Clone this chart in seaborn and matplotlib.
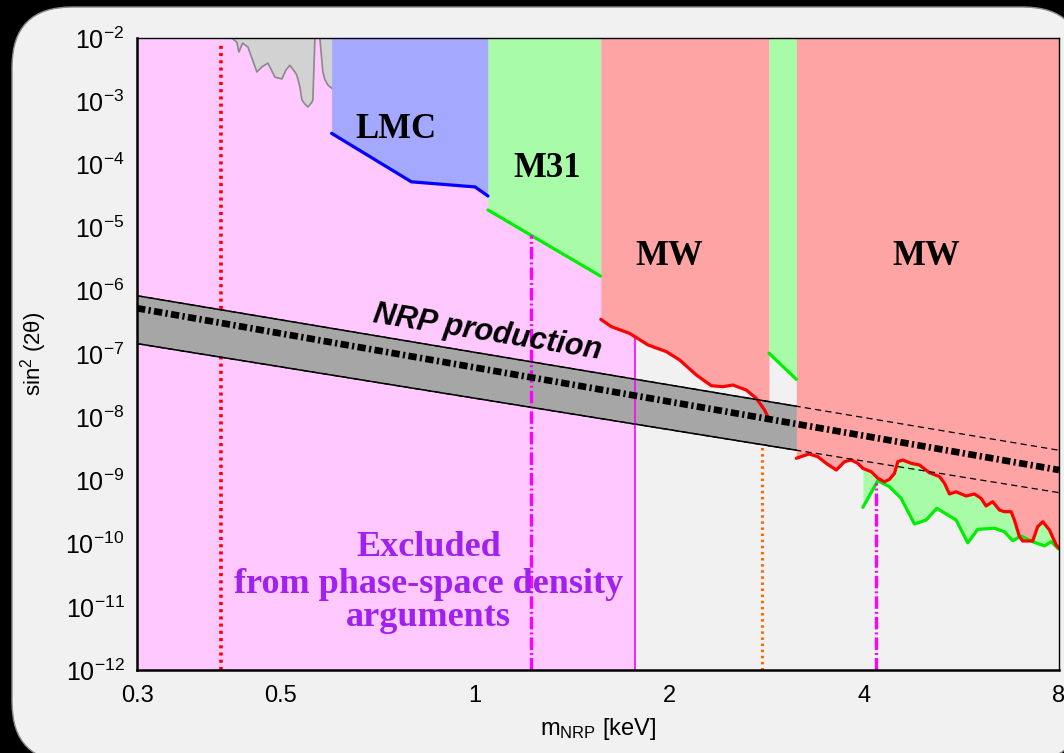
import numpy as np
import pandas as pd
import matplotlib
matplotlib.use("Agg")
import matplotlib.pyplot as plt
import seaborn as sns
from matplotlib.patches import FancyBboxPatch
from matplotlib.ticker import FixedLocator, NullFormatter

# ---------------- data ----------------
x_lim = (0.3, 8.0)
y_lim = (1e-12, 1e-2)

x_major = [0.3, 0.5, 1, 2, 4, 8]
x_major_labels = ["0.3", "0.5", "1", "2", "4", "8"]
x_minor = [3, 5, 6, 7]
y_exponents = list(range(-12, -1))

# grey X-ray bound at the top
gray_m = [0.4206, 0.428, 0.4312, 0.437, 0.4453, 0.4598, 0.4681, 0.4782, 0.4903,
          0.5026, 0.5098, 0.5171, 0.5264, 0.530, 0.5358, 0.5397, 0.5455, 0.5514,
          0.5594, 0.5612, 0.5653, 0.5754, 0.5815, 0.5857, 0.592, 0.6005, 0.618]
gray_s = [1e-2, 8.6e-3, 6.0e-3, 8.3e-3, 7.2e-3, 2.9e-3, 3.5e-3, 4.0e-3, 2.4e-3,
          2.25e-3, 3.1e-3, 3.7e-3, 2.9e-3, 2.6e-3, 1.7e-3, 1.05e-3, 9.0e-4, 8.1e-4,
          9.7e-4, 1.05e-3, 1e-2, 1e-2, 2.9e-3, 2.2e-3, 1.8e-3, 1.6e-3, 1.3e-3]

# LMC bound
lmc_m = [0.600, 0.797, 1.000, 1.047]
lmc_s = [3.1e-4, 5.3e-5, 4.4e-5, 3.16e-5]

# M31 bound (first piece)
m31_m = [1.047, 1.563]
m31_s = [1.9e-5, 1.71e-6]

# MW bound (first piece)
mw1_m = [1.565, 1.625, 1.734, 1.851, 1.976, 2.072, 2.199, 2.319, 2.417, 2.504,
         2.627, 2.722, 2.804, 2.848]
mw1_s = [3.54e-7, 2.70e-7, 2.12e-7, 1.39e-7, 1.09e-7, 8.04e-8, 4.65e-8, 3.15e-8,
         3.04e-8, 3.23e-8, 2.69e-8, 1.99e-8, 1.30e-8, 9.3e-9]

# M31 bound (second piece)
m31b_m = [2.848, 3.139]
m31b_s = [1.03e-7, 3.98e-8]

# MW bound (second piece)
mw2_m = [3.139, 3.285, 3.389, 3.493, 3.619, 3.728, 3.818, 3.908, 3.979, 4.100,
         4.197, 4.298, 4.375, 4.453, 4.506, 4.587, 4.727, 4.868, 5.044, 5.227,
         5.321, 5.416, 5.546, 5.746, 5.919, 6.061, 6.170, 6.317, 6.470, 6.586,
         6.745, 6.825, 6.947, 7.03, 7.285, 7.416, 7.550, 7.733, 7.920, 8.0]
mw2_s = [2.24e-9, 2.62e-9, 2.37e-9, 1.86e-9, 1.46e-9, 1.98e-9, 2.10e-9, 1.86e-9,
         1.55e-9, 1.37e-9, 1.08e-9, 9.5e-10, 1.04e-9, 1.29e-9, 1.98e-9, 2.10e-9,
         1.86e-9, 1.75e-9, 1.32e-9, 1.15e-9, 9.0e-10, 6.1e-10, 6.6e-10, 5.66e-10,
         6.1e-10, 5.2e-10, 3.94e-10, 4.6e-10, 3.4e-10, 3.2e-10, 3.2e-10, 2.36e-10,
         1.29e-10, 1.10e-10, 1.10e-10, 1.85e-10, 2.22e-10, 1.64e-10, 9.5e-11, 8.5e-11]

# M31 bound (third piece, bottom right)
m31c_m = [3.979, 4.197, 4.375, 4.560, 4.782, 4.984, 5.176, 5.546, 5.781, 5.989,
          6.357, 6.586, 6.785, 6.989, 7.285, 7.596, 7.781, 7.966, 8.0]
m31c_s = [3.75e-10, 9.9e-10, 7.94e-10, 5.2e-10, 2.04e-10, 2.36e-10, 3.62e-10,
          2.36e-10, 1.03e-10, 1.68e-10, 1.75e-10, 1.54e-10, 1.11e-10, 1.32e-10,
          1.07e-10, 9.2e-11, 1.07e-10, 8.4e-11, 8.2e-11]

# NRP production band
band_m = [0.3, 8.0]
band_hi = [8.36e-7, 3.0e-9]
band_mid = [5.3e-7, 1.46e-9]
band_lo = [1.46e-7, 6.4e-10]

# phase-space density exclusion
phase_space_max = 1.77

# vertical marker lines: (mass, top value)
red_dot = (0.405, 8.3e-3)
pink_edge = (1.77, 1.8e-7)
magenta_dd = [(1.219, 7.6e-6), (4.172, 9.0e-10)]
orange_dot = (2.78, 3.6e-9)

# ---------------- style ----------------
sns.set_style("white")
plt.rcParams["font.family"] = ["Liberation Sans", "DejaVu Sans"]
plt.rcParams["mathtext.fontset"] = "custom"
plt.rcParams["mathtext.rm"] = "Liberation Sans"
plt.rcParams["mathtext.it"] = "Liberation Sans:italic"
plt.rcParams["mathtext.bf"] = "Liberation Sans:bold"
plt.rcParams["lines.scale_dashes"] = False
for key in ["text.color", "axes.labelcolor", "xtick.color", "ytick.color",
            "axes.edgecolor"]:
    plt.rcParams[key] = "black"

PINK = "#ffc8ff"
BLUE_F = "#a4a8ff"
GREEN_F = "#a8fca8"
RED_F = "#ffa4a4"
GRAY_F = "#d2d2d2"
BAND_F = "#a6a6a6"
PANEL = "#f1f1f1"

fig = plt.figure(figsize=(10.64, 7.53), dpi=100)
fig.patch.set_facecolor("black")
panel = FancyBboxPatch((0.12, -0.09), 10.71, 7.55,
                       boxstyle="round,pad=0,rounding_size=0.6",
                       transform=fig.dpi_scale_trans, facecolor=PANEL,
                       edgecolor="#8a8a8a", linewidth=1.0, zorder=0)
fig.add_artist(panel)

ax = fig.add_axes([137 / 1064, (753 - 670) / 753, 922 / 1064, 632 / 753])
ax.set_facecolor(PANEL)
ax.set_xscale("log")
ax.set_yscale("log")
ax.set_xlim(*x_lim)
ax.set_ylim(*y_lim)

TOP = 1.0  # fill regions up past the top of the axes

# regions
ax.axvspan(x_lim[0], phase_space_max, color=PINK, lw=0, zorder=1)
ax.fill_between(gray_m, gray_s, TOP, color=GRAY_F, lw=0, zorder=1.5)
sns.lineplot(x=gray_m, y=gray_s, color="#8a8a8a", linewidth=1.2, ax=ax,
             sort=False, estimator=None, legend=False, zorder=1.6)
ax.fill_between(lmc_m, lmc_s, TOP, color=BLUE_F, lw=0, zorder=2)
ax.fill_between(m31_m, m31_s, TOP, color=GREEN_F, lw=0, zorder=2)
ax.fill_between(mw1_m, mw1_s, TOP, color=RED_F, lw=0, zorder=2)
ax.fill_between(m31b_m, m31b_s, TOP, color=GREEN_F, lw=0, zorder=2)

# red dotted line (below the band)
ax.plot([red_dot[0], red_dot[0]], [y_lim[0], red_dot[1]], color="#ff0000",
        lw=2.6, dashes=(2.2, 3.0), zorder=2.5)

# NRP band
ax.fill_between(band_m, band_lo, band_hi, color=BAND_F, lw=0, zorder=3)
ax.plot(band_m, band_hi, color="black", lw=1.1, zorder=3.2)
ax.plot(band_m, band_lo, color="black", lw=1.1, zorder=3.2)

# second-range regions
ax.fill_between(m31c_m, m31c_s, TOP, color=GREEN_F, lw=0, zorder=3.5)
ax.fill_between(mw2_m, mw2_s, TOP, color=RED_F, lw=0, zorder=4)

# dashed continuation of band edges
ax.plot(band_m, band_hi, color="black", lw=0.9, dashes=(4.5, 3.0), zorder=6)
ax.plot(band_m, band_lo, color="black", lw=0.9, dashes=(4.5, 3.0), zorder=6)

# constraint curves
sns.lineplot(x=lmc_m, y=lmc_s, color="#0000ff", linewidth=2.3, ax=ax,
             sort=False, estimator=None, legend=False, zorder=5)
for mm, ss in [(m31_m, m31_s), (m31b_m, m31b_s), (m31c_m, m31c_s)]:
    sns.lineplot(x=mm, y=ss, color="#00ee00", linewidth=2.3, ax=ax,
                 sort=False, estimator=None, legend=False, zorder=5)
for mm, ss in [(mw1_m, mw1_s), (mw2_m, mw2_s)]:
    sns.lineplot(x=mm, y=ss, color="#ff0000", linewidth=2.3, ax=ax,
                 sort=False, estimator=None, legend=False, zorder=5.2)

# vertical marker lines
ax.plot([pink_edge[0], pink_edge[0]], [y_lim[0], pink_edge[1]], color="#ff00ff",
        lw=1.2, zorder=5)
for xm, top in magenta_dd:
    ax.plot([xm, xm], [y_lim[0], top], color="#ff00ff", lw=2.4,
            dashes=(9.0, 2.2, 1.4, 2.2), zorder=5.5)
ax.plot([orange_dot[0], orange_dot[0]], [y_lim[0], orange_dot[1]],
        color="#ff6a00", lw=2.2, dashes=(1.8, 2.6), zorder=5.5)

# central NRP line
mid_line, = ax.plot(band_m, band_mid, color="black", lw=4.8,
                    dashes=(6.0, 2.4, 1.6, 2.4), zorder=7)
mid_line.set_dash_capstyle("butt")

# ---------------- text ----------------
serif = ["Liberation Serif", "DejaVu Serif"]
ax.text(0.7535, 2.59e-4, "LMC", family=serif, weight="bold", fontsize=25,
        ha="center", va="baseline", zorder=8)
ax.text(1.294, 6.38e-5, "M31", family=serif, weight="bold", fontsize=25,
        ha="center", va="baseline", zorder=8)
ax.text(1.994, 2.56e-6, "MW", family=serif, weight="bold", fontsize=25,
        ha="center", va="baseline", zorder=8)
ax.text(4.986, 2.56e-6, "MW", family=serif, weight="bold", fontsize=25,
        ha="center", va="baseline", zorder=8)
ax.text(1.046, 2.15e-7, "NRP production", fontsize=22, weight="bold",
        style="italic", ha="center", va="center", rotation=-9.2,
        rotation_mode="anchor", zorder=8)

PURPLE = "#a020f0"
for line, yv in [("Excluded", 6.37e-11),
                 ("from phase-space density", 1.67e-11),
                 ("arguments", 4.97e-12)]:
    ax.text(0.848, yv, line, family=serif, weight="bold", fontsize=26,
            color=PURPLE, ha="center", va="baseline", zorder=8)

# ---------------- axes ----------------
ax.xaxis.set_major_locator(FixedLocator(x_major))
ax.set_xticklabels(x_major_labels)
ax.xaxis.set_minor_locator(FixedLocator(x_minor))
ax.xaxis.set_minor_formatter(NullFormatter())

y_major = [10.0 ** e for e in y_exponents]
ax.yaxis.set_major_locator(FixedLocator(y_major))
ax.set_yticklabels([r"$\mathdefault{10^{%d}}$" % e for e in y_exponents])
y_minor = [k * 10.0 ** e for e in y_exponents[:-1] for k in range(2, 10)]
ax.yaxis.set_minor_locator(FixedLocator(y_minor))
ax.yaxis.set_minor_formatter(NullFormatter())

ax.tick_params(axis="both", which="both", direction="in", color="black",
               top=False, right=False)
ax.tick_params(axis="x", which="major", length=14, width=1.3, pad=11,
               labelsize=17)
ax.tick_params(axis="x", which="minor", length=7, width=1.3)
ax.tick_params(axis="y", which="major", length=14.5, width=1.5, pad=9,
               labelsize=18)
ax.tick_params(axis="y", which="minor", length=7, width=1.3)

for side in ["left", "bottom"]:
    ax.spines[side].set_linewidth(1.8)
for side in ["top", "right"]:
    ax.spines[side].set_linewidth(1.0)
for sp in ax.spines.values():
    sp.set_color("black")
    sp.set_zorder(10)

ax.set_xlabel(r"m$_{\mathrm{NRP}}$ [keV]", fontsize=17)
ax.set_ylabel(r"sin$^{2}$ (2θ)", fontsize=16)
ax.xaxis.set_label_coords(0.5, -0.072)
ax.yaxis.set_label_coords(-0.095, 0.5)

fig.savefig("out.png", dpi=100, facecolor="black")
